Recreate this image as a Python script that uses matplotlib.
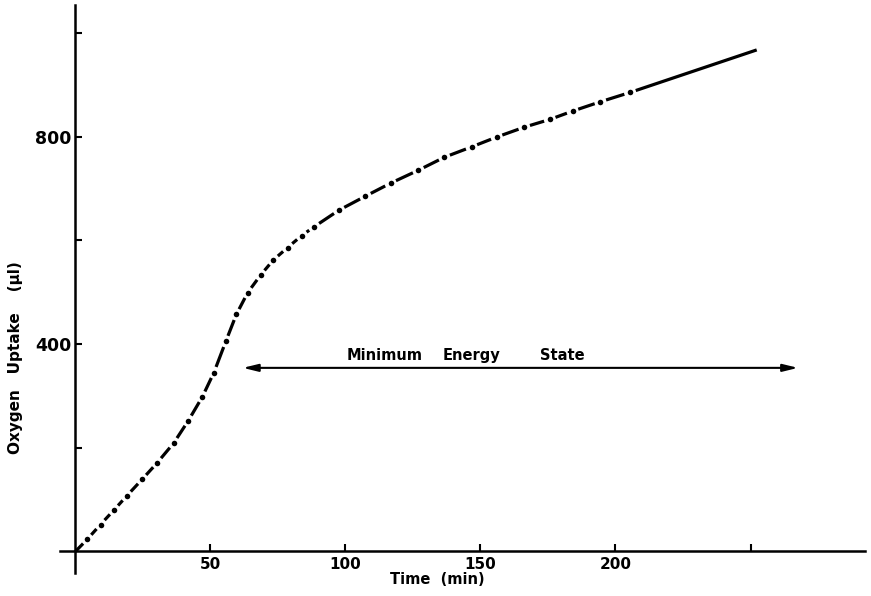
import matplotlib
matplotlib.use("Agg")
import matplotlib.pyplot as plt
import numpy as np

# Data
time_min = [0, 4.4, 9.3, 14.3, 19.0, 24.7, 30.3, 36.4, 41.8, 47.0, 51.3, 55.7, 59.6,
            63.8, 68.6, 73.3, 78.6, 83.8, 88.4, 97.6, 107.4, 116.7, 127.0, 136.6,
            146.7, 156.0, 166.2, 175.7, 184.1, 194.4, 205.4, 252.3]
uptake_ul = [0, 23.5, 52, 80, 107, 139, 171, 209, 252, 298, 345, 405, 457,
             499, 533, 562, 586, 609, 626, 658, 685, 710, 735, 760,
             780, 799, 818, 833, 849, 867, 885, 967]
# which points carry a dot marker
has_dot = [False] + [True] * 30 + [False]

xticks = [50, 100, 150, 200, 250]
xticklabels = ["50", "100", "150", "200", ""]
yticks = [200, 400, 600, 800, 1000]
yticklabels = ["", "400", "", "800", ""]
arrow_x = (62.0, 267.6)
arrow_y = 354
label_words = ["Minimum", "Energy", "State"]
label_word_x = [114.6, 146.5, 180.2]

W, H = 871, 596
fig = plt.figure(figsize=(W / 100, H / 100), dpi=100)
ax = fig.add_axes([60 / W, 1 - 573 / H, (865 - 60) / W, (573 - 5) / H])
ax.set_xlim(-5.7, 292.4)
ax.set_ylim(-41.5, 1053.6)

for s in ["top", "right"]:
    ax.spines[s].set_visible(False)
ax.spines["left"].set_position(("data", 0))
ax.spines["bottom"].set_position(("data", 0))
ax.spines["left"].set_linewidth(1.8)
ax.spines["bottom"].set_linewidth(1.8)

ax.set_xticks(xticks)
ax.set_xticklabels(xticklabels)
ax.set_yticks(yticks)
ax.set_yticklabels(yticklabels)
ax.tick_params(direction="in", length=5, width=1.5, pad=4)
ax.tick_params(axis="x", labelsize=11)
ax.tick_params(axis="y", labelsize=12.5, pad=3)
for lab in ax.get_xticklabels() + ax.get_yticklabels():
    lab.set_fontweight("bold")

# dash-dot curve: a dash between each pair of dots
pts = ax.transData.transform(np.column_stack([time_min, uptake_ul]))
inv = ax.transData.inverted()
gap = 6.0
for i in range(len(pts) - 1):
    p0, p1 = pts[i], pts[i + 1]
    d = p1 - p0
    L = np.hypot(*d)
    u = d / L
    a = p0 + u * (gap if has_dot[i] else 0)
    b = p1 - u * (gap if has_dot[i + 1] else 0)
    seg = inv.transform(np.vstack([a, b]))
    ax.plot(seg[:, 0], seg[:, 1], color="black", lw=2.3, solid_capstyle="butt")

tx = [t for t, d in zip(time_min, has_dot) if d]
ty = [v for v, d in zip(uptake_ul, has_dot) if d]
ax.plot(tx, ty, "o", color="black", markersize=4.0, markeredgewidth=0)

ax.annotate("", xy=(arrow_x[0], arrow_y), xytext=(arrow_x[1], arrow_y),
            arrowprops=dict(arrowstyle="<|-|>,head_length=0.9,head_width=0.22",
                            color="black", lw=1.5, shrinkA=0, shrinkB=0))
for w, x in zip(label_words, label_word_x):
    ax.text(x, 378, w, ha="center", va="center", fontsize=10.5, fontweight="bold")

fig.text(437 / W, 1 - 580 / H, "Time  (min)", ha="center", va="center",
         fontsize=10.5, fontweight="bold")
fig.text(16 / W, 1 - 358 / H, "Oxygen   Uptake    (µl)", ha="center", va="center",
         rotation=90, fontsize=11, fontweight="bold")

fig.savefig("out.png", dpi=100)
